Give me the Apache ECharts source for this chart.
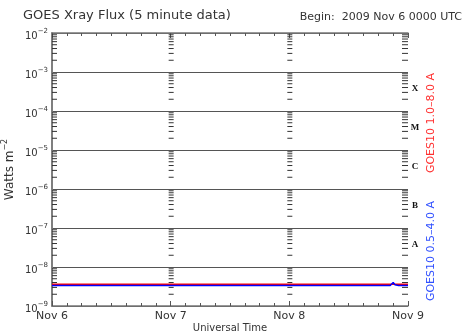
<!DOCTYPE html>
<html><head><meta charset="utf-8">
<script src="https://cdn.jsdelivr.net/npm/echarts@6/dist/echarts.min.js"></script>
<style>html,body{margin:0;padding:0;background:#fff}#c{width:466px;height:331px}</style>
</head><body><div id="c"></div>
<script>
const dayLabels = ['Nov 6', 'Nov 7', 'Nov 8', 'Nov 9'];
const dayPositions = [0, 1, 2, 3];
const decadeExponents = [-9, -8, -7, -6, -5, -4, -3];
const minorMultipliers = [2, 3, 4, 5, 6, 7, 8, 9];
const classNames = ['A', 'B', 'C', 'M', 'X'];
const classValues = [3.8e-8, 3.8e-7, 3.8e-6, 3.8e-5, 3.8e-4];
const timeDays = [0, 0.25, 0.5, 0.75, 1, 1.25, 1.5, 1.75, 2, 2.25, 2.5, 2.75, 2.85, 2.875, 2.89, 2.92, 3];
const longFlux = [3.6e-9, 3.6e-9, 3.6e-9, 3.6e-9, 3.6e-9, 3.6e-9, 3.6e-9, 3.6e-9, 3.6e-9, 3.6e-9, 3.6e-9, 3.6e-9, 3.6e-9, 3.6e-9, 3.6e-9, 3.6e-9, 3.6e-9];
const shortFlux = [3.35e-9, 3.35e-9, 3.35e-9, 3.35e-9, 3.35e-9, 3.35e-9, 3.35e-9, 3.35e-9, 3.35e-9, 3.35e-9, 3.35e-9, 3.35e-9, 3.35e-9, 4.0e-9, 3.5e-9, 3.35e-9, 3.35e-9];

const FONT = '"DejaVu Sans", sans-serif';
const TXT = '#333';

// minor tick decoration data: [x, value, column]
const tickData = [];
dayPositions.forEach(function (d) {
  decadeExponents.forEach(function (e) {
    minorMultipliers.forEach(function (m) {
      tickData.push([d, m * Math.pow(10, e), d]);
    });
  });
});
const classData = classNames.map(function (n, i) { return [3, classValues[i], n]; });

const chart = echarts.init(document.getElementById('c'), null, {renderer: 'canvas'});
chart.setOption({
  animation: false,
  backgroundColor: '#fff',
  grid: {left: 52, right: 58, top: 33, bottom: 25, containLabel: false, outerBoundsMode: 'none'},
  xAxis: [{
    type: 'value', min: 0, max: 3, interval: 1,
    axisLine: {lineStyle: {color: '#777', width: 1.5}},
    axisTick: {inside: true, length: 5, lineStyle: {color: '#555'}},
    minorTick: {show: true, splitNumber: 8, length: 3, lineStyle: {color: '#555'}},
    splitLine: {show: false},
    axisLabel: {margin: 5, color: TXT, fontFamily: FONT, fontSize: 11,
      formatter: function (v) { return dayLabels[Math.round(v)] || ''; }},
    name: 'Universal Time', nameLocation: 'middle', nameGap: 17, nameMoveOverlap: false,
    nameTextStyle: {color: TXT, fontFamily: FONT, fontSize: 10}
  }, {
    type: 'value', min: 0, max: 3, interval: 1, position: 'top',
    axisLine: {lineStyle: {color: '#777', width: 1.5}},
    axisTick: {inside: true, length: 5, lineStyle: {color: '#555'}},
    minorTick: {show: true, splitNumber: 8, length: 3, lineStyle: {color: '#555'}},
    splitLine: {show: false}, axisLabel: {show: false}
  }],
  yAxis: [{
    type: 'log', logBase: 10, min: 1e-9, max: 1e-2, splitNumber: 7,
    axisLine: {show: true, lineStyle: {color: '#777', width: 1.5}},
    axisTick: {show: false},
    splitLine: {show: true, lineStyle: {color: '#555', width: 1}},
    axisLabel: {margin: 4, color: TXT, fontFamily: FONT,
      formatter: function (v) {
        const e = Math.round(Math.log10(v));
        return '{b|10}{s|' + String(e).replace('-', '−') + '}';
      },
      rich: {
        b: {fontSize: 10, fontFamily: FONT, color: TXT, padding: [6, 0, 0, 0]},
        s: {fontSize: 7, fontFamily: FONT, color: TXT, padding: [0, 0, 4, 0]}
      }
    },
    name: '{a|Watts m}{s|−2}', nameLocation: 'middle', nameGap: 36, nameMoveOverlap: false,
    nameTextStyle: {rich: {
      a: {fontSize: 12, fontFamily: FONT, color: TXT, padding: [6, 0, 0, 0]},
      s: {fontSize: 8, fontFamily: FONT, color: TXT, padding: [0, 0, 4, 0]}
    }}
  }, {
    type: 'log', logBase: 10, min: 1e-9, max: 1e-2, splitNumber: 7, position: 'right',
    axisLine: {show: true, lineStyle: {color: '#777', width: 1.5}},
    axisTick: {show: false}, splitLine: {show: false}, axisLabel: {show: false}
  }],
  series: [{
    type: 'custom', xAxisIndex: 0, yAxisIndex: 0, silent: true, clip: false,
    data: tickData,
    renderItem: function (params, api) {
      const p = api.coord([api.value(0), api.value(1)]);
      const col = api.value(2);
      let x1, x2;
      if (col === 0) { x1 = p[0]; x2 = p[0] + 5; }
      else if (col === 3) { x1 = p[0] - 6; x2 = p[0]; }
      else { x1 = p[0] - 2; x2 = p[0] + 3; }
      return {type: 'line', shape: {x1: x1, y1: p[1], x2: x2, y2: p[1]},
        style: {stroke: '#333', lineWidth: 1}};
    }
  }, {
    type: 'custom', xAxisIndex: 0, yAxisIndex: 0, silent: true, clip: false,
    data: classData,
    renderItem: function (params, api) {
      const p = api.coord([api.value(0), api.value(1)]);
      return {type: 'text', x: p[0] + 7, y: p[1],
        style: {text: classData[params.dataIndex][2], fill: '#111',
          font: 'bold 9px "Liberation Serif", serif', align: 'center', verticalAlign: 'middle'}};
    }
  }, {
    type: 'line', name: 'GOES10 1.0-8.0 A', showSymbol: false,
    data: timeDays.map(function (t, i) { return [t, longFlux[i]]; }),
    lineStyle: {color: '#ff0000', width: 1.5}, itemStyle: {color: '#ff0000'}
  }, {
    type: 'line', name: 'GOES10 0.5-4.0 A', showSymbol: false,
    data: timeDays.map(function (t, i) { return [t, shortFlux[i]]; }),
    lineStyle: {color: '#0000ff', width: 1.5}, itemStyle: {color: '#0000ff'}
  }],
  graphic: [{
    type: 'text', left: 23, top: 9,
    style: {text: 'GOES Xray Flux (5 minute data)', fill: TXT, font: '13px ' + FONT}
  }, {
    type: 'text', right: 4, top: 12,
    style: {text: 'Begin:  2009 Nov 6 0000 UTC', fill: TXT, font: '11px ' + FONT}
  }, {
    type: 'text', x: 431, y: 123, rotation: Math.PI / 2,
    style: {text: 'GOES10 1.0–8.0 A', fill: '#ff3030', font: '11px ' + FONT,
      align: 'center', verticalAlign: 'middle'}
  }, {
    type: 'text', x: 431, y: 251, rotation: Math.PI / 2,
    style: {text: 'GOES10 0.5–4.0 A', fill: '#3050ff', font: '11px ' + FONT,
      align: 'center', verticalAlign: 'middle'}
  }]
});
</script>
</body></html>
